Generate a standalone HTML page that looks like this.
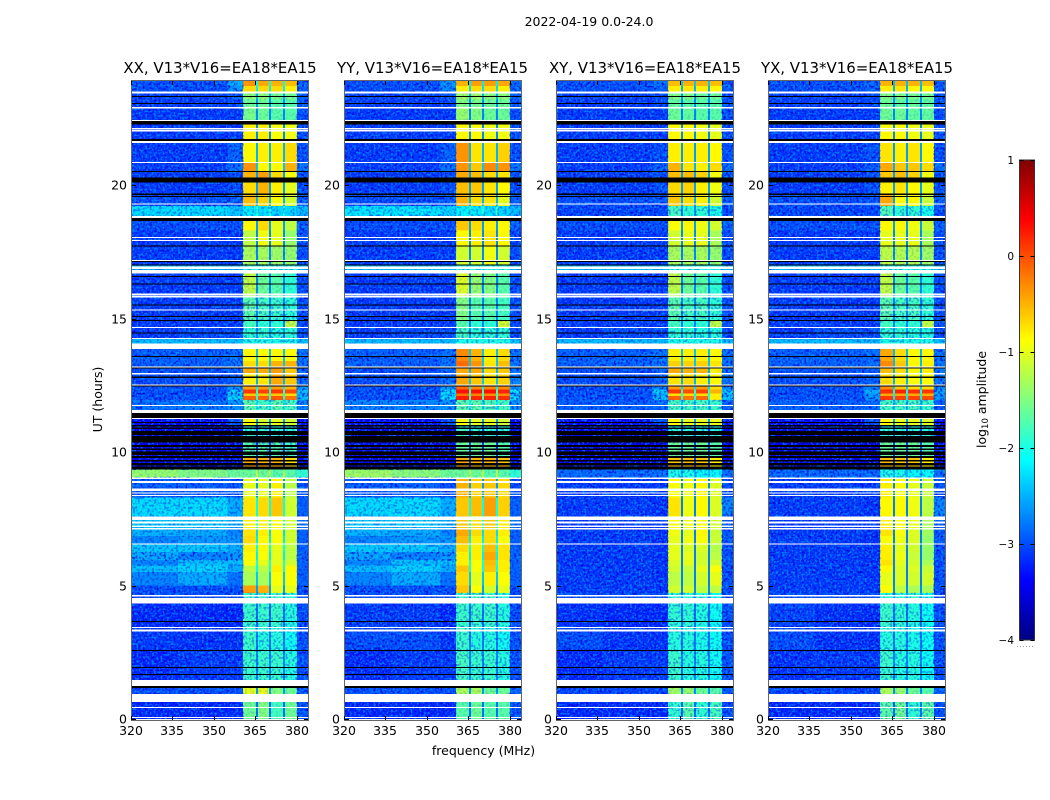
<!DOCTYPE html>
<html>
<head>
<meta charset="utf-8">
<title>2022-04-19 amplitude waterfall</title>
<style>
html,body{margin:0;padding:0;background:#fff;}
svg{display:block;font-family:"DejaVu Sans","Liberation Sans",sans-serif;fill:#000;}
</style>
</head>
<body>
<svg id="chart" xmlns="http://www.w3.org/2000/svg" width="1050" height="800" viewBox="0 0 1050 800">
  <defs>
    <filter id="speckDark" x="0" y="0" width="100%" height="100%" color-interpolation-filters="sRGB">
      <feTurbulence type="fractalNoise" baseFrequency="0.42" numOctaves="1" seed="4"/>
      <feColorMatrix type="matrix" values="0 0 0 0 0  0 0 0 0 0  0 0 0 0 0.85  6 0 0 0 -2.9"/>
    </filter>
    <filter id="speckLight" x="0" y="0" width="100%" height="100%" color-interpolation-filters="sRGB">
      <feTurbulence type="fractalNoise" baseFrequency="0.46" numOctaves="1" seed="11"/>
      <feColorMatrix type="matrix" values="0 0 0 0 0  0 0 0 0 0.6  0 0 0 0 1  0 6 0 0 -3"/>
    </filter>
    <linearGradient id="jetGradient" x1="0" y1="1" x2="0" y2="0"></linearGradient>
  </defs>
  <text x="589" y="26" font-size="12.5" text-anchor="middle">2022-04-19 0.0-24.0</text>
  <text x="220" y="73" font-size="14.95" text-anchor="middle">XX, V13*V16=EA18*EA15</text>
  <text x="432.5" y="73" font-size="14.95" text-anchor="middle">YY, V13*V16=EA18*EA15</text>
  <text x="645" y="73" font-size="14.95" text-anchor="middle">XY, V13*V16=EA18*EA15</text>
  <text x="857" y="73" font-size="14.95" text-anchor="middle">YX, V13*V16=EA18*EA15</text>
  <text x="483.5" y="755" font-size="12.5" text-anchor="middle">frequency (MHz)</text>
  <text x="102" y="399.5" font-size="12.5" text-anchor="middle" transform="rotate(-90 102 399.5)">UT (hours)</text>
  <text x="986" y="399.5" font-size="12.5" text-anchor="middle" transform="rotate(-90 986 399.5)">log<tspan font-size="8.5" dy="2">10</tspan><tspan dy="-2"> amplitude</tspan></text>
  <g id="panels"></g>
  <g id="colorbar"></g>
</svg>
<script>
// Axis tick labels
const freqTicks = [320, 335, 350, 365, 380];
const timeTicks = [0, 5, 10, 15, 20];
const colorTicks = [1, 0, -1, -2, -3, -4];

// Frequency column edges (MHz): three background columns, four spectral windows with gaps, right edge
const freqEdges = [320, 337, 355, 360.6, 365.3, 366, 370, 370.7, 375, 375.8, 380.1, 384.1];

// Start hour of each row of levels
const rowStartHours = [0,0.94,1.46,2.6,3.45,4.53,4.72,5,5.5,5.75,5.95,6.25,6.57,6.85,7.1,7.6,8.3,9.05,9.34,9.85,10.35,11,11.47,11.95,12.1,12.2,12.35,12.53,12.95,13.2,13.4,13.86,14.06,14.27,14.68,14.9,15.84,16.69,17.03,17.74,18.3,18.76,18.84,19.21,19.69,20.29,20.52,20.86,21.6,21.72,22.43,22.92,23.2,23.5,23.7];
const timeEnd = 23.9;

// log10 amplitude per row: bgA, bgB, bgC, win1, win2, win3, win4, bgRight
const levelsXX = [
[-3.2,-3.2,-3.2,-1.6,-1.5,-1.8,-1.6,-3],[-3,-3,-3,-1,-1,-1.5,-1.6,-2.9],[-3.2,-3.1,-3.1,-1.85,-1.85,-1.85,-1.95,-3],[-3.1,-3.15,-3.15,-1.85,-1.95,-1.95,-2.05,-3],[-3.2,-3.2,-3.2,-1.85,-1.85,-1.85,-1.95,-3],[-3,-3,-3,-1.85,-1.85,-1.85,-1.95,-3],
[-3,-3,-3,-0.4,-0.5,-1,-1,-3],[-2.7,-2.5,-2.8,-1.3,-1.3,-0.9,-0.9,-2.9],[-2.4,-2.3,-2.5,-1.2,-1.2,-0.8,-0.85,-2.9],[-2.7,-2.4,-2.4,-0.9,-1,-1,-1.1,-2.9],[-2.5,-2.7,-2.6,-0.85,-0.9,-1,-1.2,-2.9],[-2.35,-2.35,-2.5,-0.8,-0.85,-1,-1.2,-2.9],
[-2.7,-2.6,-2.6,-0.7,-0.85,-0.9,-1.1,-2.9],[-2.45,-2.5,-2.7,-0.75,-0.8,-0.9,-1.1,-2.9],[-2.35,-2.35,-2.5,-0.8,-0.8,-0.85,-1.1,-2.8],[-2.25,-2.25,-2.5,-0.75,-0.7,-0.6,-1.1,-2.9],[-2.9,-2.9,-3,-1,-1,-0.8,-1.2,-3],[-1.4,-1.5,-1.6,-1.6,-1.6,-1.7,-1.7,-1.9],
[-3.5,-3.5,-3.5,-0.45,-0.5,-0.5,-0.7,-3.4],[-3.5,-3.5,-3.5,-1.7,-1.7,-1.7,-1.8,-3.4],[-3.5,-3.5,-3.5,-1.9,-1.9,-1.9,-1.9,-3.4],[-3.4,-3.4,-3,-0.9,-1.1,-1,-1.1,-3.4],[-2.8,-2.75,-2.6,-1.7,-1.8,-1.7,-1.8,-2.7],[-3,-3,-2.3,-0.1,-0.1,-0.05,-0.2,-2.4],[-3,-3,-2.4,-0.6,-0.6,-0.6,-0.7,-2.5],[-3,-3,-2.3,0.1,0.05,0.1,0,-2.4],[-3,-3,-2.6,-0.4,-0.4,-0.4,-0.5,-2.6],
[-3,-3,-2.9,-0.8,-0.75,-0.45,-0.6,-2.9],[-3,-3,-2.9,-0.45,-0.45,-0.4,-0.6,-2.9],[-2.9,-2.9,-2.8,-0.7,-0.7,-0.5,-0.5,-2.8],[-2.9,-2.9,-2.8,-0.85,-0.85,-0.85,-0.85,-2.8],[-2.6,-2.6,-2.6,-0.7,-0.7,-0.7,-0.7,-2.6],[-2.4,-2.4,-2.4,-2,-2,-2,-2,-2.4],
[-3.1,-3,-3,-1.9,-1.9,-1.95,-1.9,-3],[-3.1,-3.1,-3.1,-1.8,-1.9,-1.9,-1.2,-3],[-3.1,-3.1,-3.1,-1.7,-1.8,-1.85,-1.9,-3],[-3.1,-3.1,-3.1,-1.2,-1.6,-1.7,-1.9,-3],[-2.4,-2.4,-2.4,-2,-2,-2,-2,-2.4],[-3.1,-3.1,-3.1,-1.3,-1.3,-1.35,-1.4,-3],[-3.1,-3.1,-3.1,-1.2,-0.95,-1,-1.4,-3],[-3,-3,-3,-0.85,-0.7,-1,-1.2,-2.9],
[-3,-3,-3,-1,-1,-1,-1.2,-2.9],[-2.25,-2.25,-2.35,-2.2,-2.25,-2.3,-2.3,-2.4],[-3,-3,-2.9,-0.55,-0.65,-0.85,-1.1,-2.9],[-3.1,-3.1,-3,-0.7,-0.5,-0.8,-1,-3],[-3.1,-3.1,-3,-0.5,-0.4,-0.7,-0.9,-3],[-3.1,-3.1,-2.8,-0.35,-0.85,-0.85,-0.5,-2.8],[-3.1,-3.1,-2.9,-0.85,-0.8,-0.8,-0.7,-3],[-3,-3,-2.5,-0.7,-0.75,-0.8,-0.8,-2.7],[-3.1,-3.1,-3.1,-0.8,-0.8,-0.9,-0.95,-3],[-3.1,-3.1,-3.1,-1.55,-1.6,-1.7,-1.7,-3],[-3.1,-3.1,-3.05,-1.6,-1.6,-1.7,-1.7,-3],[-3.05,-3.05,-2.9,-1.45,-1.45,-1.55,-1.55,-2.9],[-3,-3,-2.6,-0.7,-0.7,-0.7,-0.8,-2.9],[-3,-3,-2.5,-0.35,-0.45,-0.5,-0.55,-2.9]
];
const levelsYY = [
[-3.2,-3.2,-3.2,-1.7,-1.6,-1.7,-1.7,-3],[-3,-3,-3,-1.3,-1.3,-1.6,-1.6,-2.9],[-3.2,-3.1,-3.1,-1.8,-1.85,-1.85,-1.95,-3],[-3,-3,-3.15,-1.85,-1.95,-1.95,-2.05,-3],[-3.1,-3.1,-3.2,-1.85,-1.85,-1.85,-1.95,-3],[-3,-3,-3,-1.85,-1.85,-1.85,-1.95,-3],
[-3,-3,-3,-0.6,-0.9,-1.1,-1,-3],[-2.7,-2.5,-2.8,-0.7,-1,-0.8,-0.9,-2.9],[-2.4,-2.3,-2.5,-0.6,-0.9,-0.6,-0.8,-2.9],[-2.7,-2.4,-2.4,-0.8,-0.9,-0.55,-0.8,-2.9],[-2.5,-2.7,-2.6,-0.8,-0.8,-0.45,-0.75,-2.9],[-2.35,-2.35,-2.5,-0.7,-0.8,-0.55,-0.75,-2.9],
[-2.7,-2.6,-2.6,-0.55,-0.8,-0.7,-0.9,-2.9],[-2.45,-2.5,-2.7,-0.45,-0.7,-0.7,-0.8,-2.9],[-2.35,-2.35,-2.5,-0.6,-0.7,-0.6,-0.8,-2.8],[-2.25,-2.25,-2.5,-0.6,-0.55,-0.4,-0.65,-2.9],[-2.9,-2.9,-3,-0.5,-0.65,-0.6,-0.7,-3],[-1.35,-1.45,-1.6,-1.6,-1.6,-1.7,-1.7,-1.9],
[-3.5,-3.5,-3.5,-0.45,-0.5,-0.5,-0.6,-3.4],[-3.5,-3.5,-3.5,-1.6,-1.6,-1.6,-1.7,-3.4],[-3.5,-3.5,-3.5,-1.8,-1.9,-1.9,-1.9,-3.4],[-3.4,-3.4,-3,-0.9,-1,-1,-1.1,-3.4],[-2.7,-2.7,-2.6,-1.7,-1.7,-1.75,-1.8,-2.6],[-3,-3,-2.2,0.25,0.2,0.2,0.15,-2.2],[-3,-3,-2.3,-0.2,-0.25,-0.3,-0.3,-2.4],[-3,-3,-2.2,0.3,0.3,0.3,0.2,-2.2],[-3,-3,-2.6,-0.15,-0.3,-0.3,-0.3,-2.6],
[-3,-3,-2.8,-0.45,-0.6,-0.75,-0.65,-2.7],[-3,-3,-2.9,-0.45,-0.45,-0.7,-0.6,-2.8],[-2.9,-2.9,-2.8,-0.15,-0.35,-0.75,-0.55,-2.8],[-2.9,-2.9,-2.8,-0.3,-0.5,-0.8,-0.7,-2.8],[-2.6,-2.6,-2.6,-0.3,-0.6,-0.8,-0.7,-2.6],[-2.4,-2.4,-2.4,-2,-2,-2,-2,-2.4],
[-3.1,-3,-3,-1.8,-1.9,-1.9,-1.9,-3],[-3.1,-3.1,-3.1,-1.7,-1.9,-1.9,-1.1,-3],[-3.1,-3.1,-3.1,-1.5,-1.7,-1.7,-1.8,-3],[-3.1,-3.1,-3.1,-1.05,-1.4,-1.5,-1.7,-3],[-2.4,-2.4,-2.4,-2,-2,-2,-2,-2.4],[-3.1,-3.1,-3.1,-1.1,-1.1,-0.95,-1.1,-3],[-3.1,-3.1,-3.1,-0.85,-0.8,-0.75,-0.85,-3],[-3,-3,-3,-0.6,-0.7,-0.8,-0.85,-2.9],
[-3,-3,-3,-0.9,-0.9,-0.9,-1,-2.9],[-2.2,-2.2,-2.3,-2.15,-2.2,-2.25,-2.3,-2.4],[-3,-3,-2.9,-0.5,-0.7,-0.75,-1,-2.9],[-3.1,-3.1,-3,-0.55,-0.6,-0.75,-0.85,-3],[-3.1,-3.1,-3,-0.45,-0.55,-0.7,-0.75,-3],[-3.1,-3.1,-2.8,-0.35,-0.6,-0.3,-0.35,-2.8],[-3.1,-3.1,-2.9,-0.35,-0.75,-0.75,-0.65,-3],[-3,-3,-2.6,-0.65,-0.8,-0.8,-0.8,-2.7],[-3.1,-3.1,-3.1,-0.85,-0.85,-0.95,-0.95,-3],[-3.1,-3.1,-3.1,-1.4,-1.5,-1.6,-1.6,-3],[-3.1,-3.1,-3.05,-1.5,-1.55,-1.6,-1.6,-3],[-3.05,-3.05,-2.9,-1.35,-1.35,-1.45,-1.45,-2.9],[-3,-3,-2.7,-0.8,-0.7,-0.7,-0.8,-2.9],[-3,-3,-2.6,-0.5,-0.4,-0.4,-0.45,-2.9]
];
const levelsXY = [
[-3.2,-3.2,-3.2,-1.9,-1.7,-1.9,-1.8,-3],[-3.05,-3.05,-3.05,-1.35,-1.4,-1.6,-1.7,-2.9],[-3.2,-3.1,-3.1,-1.85,-1.95,-1.95,-2.05,-3],[-3,-3.15,-3.15,-1.95,-1.95,-2,-2.05,-3],[-3.15,-3.2,-3.2,-1.9,-1.9,-1.95,-2.05,-3],[-3,-3,-3,-1.95,-1.95,-1.95,-2.05,-3],
[-3.1,-3.1,-3.1,-1.1,-1.1,-1.2,-1.2,-3],[-3.1,-3.1,-3.15,-1.2,-1.2,-1.1,-1,-3],[-3.1,-3.1,-3.15,-1.1,-1.15,-1,-0.9,-3],[-3.1,-3.1,-3.15,-1.05,-1,-1.1,-1.1,-3],[-3.1,-3.1,-3.15,-1,-1,-1.1,-1.2,-3],[-3.1,-3.1,-3.15,-1,-1.05,-1.05,-1.25,-3],
[-3.1,-3.1,-3.15,-1,-0.95,-0.9,-1.15,-2.95],[-3.1,-3.1,-3.15,-0.95,-1,-0.85,-1.15,-2.95],[-3.1,-3.1,-3.15,-0.9,-0.95,-0.9,-1.1,-2.9],[-3.1,-3.1,-3.15,-0.75,-0.95,-0.85,-1.05,-2.7],[-3.1,-3.1,-3.1,-0.9,-0.95,-0.85,-1.05,-3],[-2.85,-2.85,-2.85,-2,-2,-2.1,-2.1,-2.8],
[-3.5,-3.5,-3.5,-0.6,-0.55,-0.6,-0.8,-3.4],[-3.5,-3.5,-3.5,-1.6,-1.6,-1.6,-1.7,-3.4],[-3.5,-3.5,-3.5,-1.9,-1.9,-1.9,-1.9,-3.4],[-3.4,-3.4,-3,-0.85,-1,-1,-1,-3.4],[-2.9,-2.9,-2.85,-1.8,-1.8,-1.8,-1.85,-2.9],[-3,-3,-2.4,-0.1,-0.2,-0.15,-0.8,-2.4],[-3,-3,-2.5,-0.7,-0.7,-0.7,-0.8,-2.5],[-3,-3,-2.3,0.1,0,0.05,-0.5,-2.3],[-3,-3,-2.7,-0.4,-0.4,-0.4,-0.7,-2.7],
[-3,-3,-2.9,-0.75,-0.7,-0.8,-0.85,-2.8],[-3,-3,-2.9,-0.45,-0.5,-0.5,-0.8,-2.8],[-2.9,-2.9,-2.8,-0.65,-0.65,-0.65,-0.75,-2.8],[-2.9,-2.9,-2.8,-0.8,-0.8,-0.8,-0.85,-2.8],[-2.6,-2.6,-2.6,-0.75,-0.8,-0.85,-0.85,-2.6],[-2.4,-2.4,-2.4,-2,-2,-2,-2,-2.4],
[-3.1,-3,-3,-1.9,-1.9,-1.95,-1.95,-3],[-3.1,-3.1,-3.1,-1.8,-1.9,-1.9,-1.2,-3],[-3.1,-3.1,-3.1,-1.7,-1.8,-1.8,-1.9,-3],[-3.1,-3.1,-3.1,-1.2,-1.6,-1.7,-1.9,-3],[-2.4,-2.4,-2.4,-2,-2,-2,-2,-2.4],[-3.1,-3.1,-3.1,-1.3,-1.3,-1.3,-1.4,-3],[-3.1,-3.1,-3.1,-1.1,-1,-1,-1.3,-3],[-3,-3,-3,-0.9,-0.85,-0.95,-1.1,-2.9],
[-3,-3,-3,-1,-1,-1,-1.2,-2.9],[-3.05,-3.05,-3.05,-1.8,-1.9,-1.9,-2,-3],[-3,-3,-2.95,-0.6,-0.7,-0.8,-1.1,-2.9],[-3.1,-3.1,-3,-0.7,-0.65,-0.8,-0.95,-3],[-3.1,-3.1,-3,-0.55,-0.55,-0.65,-0.9,-3],[-3.1,-3.1,-2.9,-0.5,-0.75,-0.8,-0.7,-2.85],[-3.1,-3.1,-3,-0.8,-0.8,-0.8,-0.85,-3],[-3,-3,-2.7,-0.7,-0.8,-0.85,-0.9,-2.8],[-3.1,-3.1,-3.1,-0.85,-0.85,-0.95,-1,-3],[-3.1,-3.1,-3.1,-1.6,-1.65,-1.7,-1.7,-3],[-3.1,-3.1,-3.05,-1.65,-1.7,-1.7,-1.7,-3],[-3.05,-3.05,-3,-1.5,-1.5,-1.6,-1.6,-3],[-3,-3,-2.9,-0.8,-0.75,-0.8,-0.85,-2.95],[-3,-3,-2.8,-0.55,-0.5,-0.5,-0.55,-2.95]
];
const levelsYX = [
[-3.2,-3.2,-3.2,-1.7,-1.6,-1.9,-1.7,-3],[-3.05,-3.05,-3.05,-1.3,-1.4,-1.6,-1.7,-2.9],[-3.15,-3.1,-3.1,-1.85,-1.95,-1.95,-2.05,-3],[-3,-3.15,-3.15,-1.95,-1.95,-2,-2.05,-3],[-3.05,-3.15,-3.2,-1.85,-1.9,-1.95,-2.05,-3],[-3,-3,-3,-1.95,-1.95,-1.95,-2.05,-3],
[-3.1,-3.1,-3.1,-0.9,-1.2,-1.3,-1.3,-3],[-3.1,-3.1,-3.15,-1,-1.05,-1.1,-1.1,-3],[-3.1,-3.1,-3.15,-0.85,-1.05,-1.05,-1.15,-3],[-3.1,-3.1,-3.15,-0.75,-1,-1.1,-1.3,-3],[-3.1,-3.1,-3.15,-0.8,-0.95,-1.15,-1.4,-3],[-3.1,-3.1,-3.15,-0.8,-1,-1.1,-1.4,-3],
[-3.1,-3.1,-3.15,-0.9,-0.95,-1.05,-1.4,-2.95],[-3.1,-3.1,-3.15,-0.75,-0.9,-1.05,-1.35,-2.95],[-3.1,-3.1,-3.15,-0.8,-0.85,-1,-1.3,-2.9],[-3.1,-3.1,-3.15,-0.85,-0.85,-0.95,-1.2,-2.7],[-3.1,-3.1,-3.1,-0.8,-0.9,-1,-1.15,-3],[-2.85,-2.85,-2.85,-2,-2,-2.1,-2.1,-2.8],
[-3.5,-3.5,-3.5,-0.55,-0.6,-0.6,-0.8,-3.4],[-3.5,-3.5,-3.5,-1.6,-1.6,-1.6,-1.7,-3.4],[-3.5,-3.5,-3.5,-1.9,-1.9,-1.9,-1.9,-3.4],[-3.4,-3.4,-3,-0.85,-1,-1,-1.05,-3.4],[-2.9,-2.9,-2.85,-1.8,-1.8,-1.8,-1.85,-2.9],[-3,-3,-2.6,0.1,0.05,0.05,0,-2.6],[-3,-3,-2.6,-0.45,-0.45,-0.45,-0.5,-2.6],[-3,-3,-2.5,0.15,0.2,0.15,0.1,-2.5],[-3,-3,-2.75,-0.3,-0.6,-0.7,-0.7,-2.7],
[-3,-3,-2.9,-0.7,-0.8,-0.9,-0.9,-2.8],[-3,-3,-2.9,-0.55,-0.7,-0.85,-0.8,-2.8],[-2.9,-2.9,-2.85,-0.3,-0.6,-0.85,-0.8,-2.8],[-2.9,-2.9,-2.85,-0.45,-0.7,-0.85,-0.85,-2.8],[-2.6,-2.6,-2.6,-0.5,-0.75,-0.85,-0.85,-2.6],[-2.4,-2.4,-2.4,-2,-2,-2,-2,-2.4],
[-3.1,-3,-3,-1.9,-1.9,-1.95,-1.95,-3],[-3.1,-3.1,-3.1,-1.8,-1.9,-1.9,-1.2,-3],[-3.1,-3.1,-3.1,-1.7,-1.8,-1.8,-1.9,-3],[-3.1,-3.1,-3.1,-1.2,-1.6,-1.7,-1.9,-3],[-2.4,-2.4,-2.4,-2,-2,-2,-2,-2.4],[-3.1,-3.1,-3.1,-1.2,-1.25,-1.25,-1.35,-3],[-3.1,-3.1,-3.1,-1,-1,-1,-1.3,-3],[-3,-3,-3,-0.85,-0.85,-0.95,-1.15,-2.9],
[-3,-3,-3,-1,-1,-1,-1.2,-2.9],[-3.05,-3.05,-3.05,-1.75,-1.9,-1.9,-2,-3],[-3,-3,-2.95,-0.45,-0.85,-0.85,-1.15,-2.9],[-3.1,-3.1,-3,-0.8,-0.75,-0.85,-1,-3],[-3.1,-3.1,-3,-0.6,-0.55,-0.65,-0.95,-3],[-3.1,-3.1,-2.9,-0.45,-0.6,-0.6,-0.7,-2.85],[-3.1,-3.1,-3,-0.75,-0.8,-0.75,-0.85,-3],[-3,-3,-2.75,-0.65,-0.75,-0.65,-0.5,-2.8],[-3.1,-3.1,-3.1,-0.85,-0.85,-0.95,-1,-3],[-3.1,-3.1,-3.1,-1.6,-1.6,-1.65,-1.65,-3],[-3.1,-3.1,-3.05,-1.6,-1.65,-1.65,-1.65,-3],[-3.05,-3.05,-3,-1.5,-1.5,-1.55,-1.55,-3],[-3,-3,-2.9,-0.8,-0.75,-0.85,-0.85,-2.95],[-3,-3,-2.85,-0.5,-0.5,-0.5,-0.55,-2.95]
];

// Flagged time ranges in hours: white = no data, black = zero amplitude
const flaggedIntervals = [[0.04,0.07],[0.41,0.45],[0.64,0.94],[1.24,1.46],[3.27,3.36],[3.41,3.45],[4.32,4.53],[4.58,4.64],[6.53,6.57],[7.1,7.16],[7.2,7.25],[7.33,7.39],[7.46,7.59],[8.35,8.39],[8.45,8.49],[8.54,8.63],[8.84,8.91],[8.99,9.05],[11.24,11.27],[11.47,11.57],[11.72,11.76],[12.5,12.53],[12.91,12.95],[13.16,13.2],[13.86,14.06],[14.23,14.27],[14.64,14.68],[15.31,15.34],[15.78,15.84],[15.87,15.94],[16.69,16.82],[16.85,16.94],[17.15,17.19],[17.91,17.94],[18.01,18.05],[18.76,18.84],[19.28,19.31],[20.82,20.86],[21.58,21.64],[22.0,22.08],[22.1,22.13],[22.39,22.43],[22.87,22.92],[23.43,23.5]];
const zeroIntervals = [[1.16,1.24],[1.65,1.69],[1.92,1.95],[2.55,2.58],[3.64,3.67],[9.34,9.45],[9.49,9.58],[9.64,9.7],[9.78,9.85],[9.89,10.01],[10.07,10.14],[10.19,10.26],[10.35,10.6],[10.64,10.79],[10.86,10.92],[10.96,11.01],[11.09,11.12],[11.27,11.32],[11.32,11.47],[12.46,12.5],[12.78,12.82],[13.13,13.16],[13.57,13.6],[14.46,14.48],[14.91,14.94],[15.06,15.09],[15.49,15.52],[16.27,16.31],[16.57,16.6],[16.98,17.03],[17.12,17.15],[17.72,17.74],[18.65,18.76],[19.55,19.58],[19.63,19.69],[20.09,20.29],[20.49,20.52],[21.65,21.72],[22.27,22.39],[23.03,23.08],[23.3,23.33]];

const panelNames = ['xx', 'yy', 'xy', 'yx'];
const panelLevels = [levelsXX, levelsYY, levelsXY, levelsYX];
const panelLefts = [131, 344, 556, 768];

const SVGNS = 'http://www.w3.org/2000/svg';
const plotTop = 81, plotBottom = 719, plotWidth = 177;
const pxPerHour = 26.7, pxPerMHz = 2.76;

function yScale(hour) { return plotBottom - hour * pxPerHour; }
function xScale(left, mhz) { return left + (mhz - 320) * pxPerMHz; }
function colorY(v) { return 640 - (v + 4) * 96; }

function jet(t) {
  t = Math.max(0, Math.min(1, t));
  const ch = function (c) { return Math.round(255 * Math.max(0, Math.min(1, 1.5 - Math.abs(4 * t - c)))); };
  return 'rgb(' + ch(3) + ',' + ch(2) + ',' + ch(1) + ')';
}
function levelColor(v) { return jet((v + 4) / 5); }

function svgEl(tag, parent) {
  const el = document.createElementNS(SVGNS, tag);
  parent.appendChild(el);
  return el;
}
function setAll(el, attrs) {
  for (const k in attrs) el.setAttribute(k, attrs[k]);
}

// Column index -> level index (gaps between windows use -1)
const columnLevel = [0, 1, 2, 3, -1, 4, -1, 5, -1, 6, 7];

const panelsRoot = document.getElementById('panels');
panelNames.forEach(function (name, p) {
  const left = panelLefts[p];
  const levels = panelLevels[p];
  const g = svgEl('g', panelsRoot);
  
  

  const cells = svgEl('g', g);
  
  
  cells.setAttribute('shape-rendering', 'crispEdges');
  const texture = svgEl('g', g);
  
  
  texture.setAttribute('shape-rendering', 'crispEdges');

  rowStartHours.forEach(function (start, r) {
    const end = r + 1 < rowStartHours.length ? rowStartHours[r + 1] : timeEnd;
    const yTop = yScale(end);
    const h = yScale(start) - yTop;
    columnLevel.forEach(function (li, c) {
      const v = li >= 0 ? levels[r][li] : levels[r][2] + 0.4;
      const x0 = xScale(left, freqEdges[c]);
      const x1 = xScale(left, freqEdges[c + 1]);
      const cell = svgEl('rect', cells);
      
      
      setAll(cell, { x: x0, y: yTop, width: x1 - x0, height: h, fill: levelColor(v) });
    });
    // Speckle strength follows the row level: faint channels look noisier (styling only)
    const bgLevel = levels[r][1];
    const bgOpacity = bgLevel < -2.6 ? 0.7 : bgLevel < -2 ? 0.4 : 0.1;
    const winMean = (levels[r][3] + levels[r][4] + levels[r][5] + levels[r][6]) / 4;
    const winOpacity = winMean < -1.7 ? 0.35 : winMean < -1.2 ? 0.12 : 0;
    [[freqEdges[0], freqEdges[3], bgOpacity, true], [freqEdges[10], freqEdges[11], bgOpacity, true], [freqEdges[3], freqEdges[10], winOpacity, false]].forEach(function (s) {
      if (s[2] <= 0) return;
      (s[3] ? ['speckDark', 'speckLight'] : ['speckDark']).forEach(function (f) {
        const n = svgEl('rect', texture);
        
        
        setAll(n, { x: xScale(left, s[0]), y: yTop, width: xScale(left, s[1]) - xScale(left, s[0]), height: h, filter: 'url(#' + f + ')', opacity: s[2] });
      });
    });
  });

  zeroIntervals.forEach(function (iv) {
    const b = svgEl('rect', g);
    
    
    setAll(b, { x: left, y: yScale(iv[1]), width: plotWidth, height: Math.max(1, yScale(iv[0]) - yScale(iv[1])), fill: '#000', 'shape-rendering': 'crispEdges' });
  });
  flaggedIntervals.forEach(function (iv) {
    const w = svgEl('rect', g);
    
    
    setAll(w, { x: left, y: yScale(iv[1]), width: plotWidth, height: Math.max(1, yScale(iv[0]) - yScale(iv[1])), fill: '#fff', 'shape-rendering': 'crispEdges' });
  });

  const frame = svgEl('rect', g);
  
  
  setAll(frame, { x: left + 0.5, y: plotTop - 0.5, width: plotWidth, height: plotBottom - plotTop + 2, fill: 'none', stroke: '#666', 'stroke-width': 1 });

  freqTicks.forEach(function (f) {
    const x = Math.round(xScale(left, f)) + 0.5;
    [[plotTop, plotTop + 4], [plotBottom - 3, plotBottom + 1]].forEach(function (s) {
      const t = svgEl('line', g);
      
      
      setAll(t, { x1: x, x2: x, y1: s[0], y2: s[1], stroke: '#000', 'stroke-width': 1 });
    });
    const label = svgEl('text', g);
    
    
    setAll(label, { x: x - 0.5, y: 735, 'font-size': 12.5, 'text-anchor': 'middle' });
    label.textContent = String(f);
  });
  timeTicks.forEach(function (h) {
    const y = Math.round(yScale(h)) + 0.5;
    [[left + 1, left + 5], [left + plotWidth - 4, left + plotWidth]].forEach(function (s) {
      const t = svgEl('line', g);
      
      
      setAll(t, { x1: s[0], x2: s[1], y1: y, y2: y, stroke: '#000', 'stroke-width': 1 });
    });
    const label = svgEl('text', g);
    
    
    setAll(label, { x: left - 4, y: y + 4, 'font-size': 12.5, 'text-anchor': 'end' });
    label.textContent = String(h);
  });
});

// Colour bar
const grad = document.getElementById('jetGradient');
for (let i = 0; i <= 32; i++) {
  const stop = svgEl('stop', grad);
  stop.setAttribute('offset', (i / 32 * 100) + '%');
  stop.setAttribute('stop-color', jet(i / 32));
}
const cb = document.getElementById('colorbar');
const cbBody = svgEl('rect', cb);


setAll(cbBody, { x: 1019.5, y: colorY(1), width: 15, height: colorY(-4) - colorY(1), fill: 'url(#jetGradient)', stroke: '#333', 'stroke-width': 1 });
colorTicks.forEach(function (v) {
  const y = Math.round(colorY(v)) + 0.5;
  [[1019.5, 1023.5], [1030.5, 1034.5]].forEach(function (s) {
    const t = svgEl('line', cb);
    
    
    setAll(t, { x1: s[0], x2: s[1], y1: y, y2: y, stroke: '#000', 'stroke-width': 1 });
  });
  const label = svgEl('text', cb);
  
  
  setAll(label, { x: 1014, y: y + 3.5, 'font-size': 10.5, 'text-anchor': 'end' });
  label.textContent = v < 0 ? '\u2212' + Math.abs(v) : String(v);
});
const dots = svgEl('line', cb);


setAll(dots, { x1: 1017, x2: 1035, y1: 646.5, y2: 646.5, stroke: '#999', 'stroke-width': 1, 'stroke-dasharray': '1 2' });
</script>
</body>
</html>
